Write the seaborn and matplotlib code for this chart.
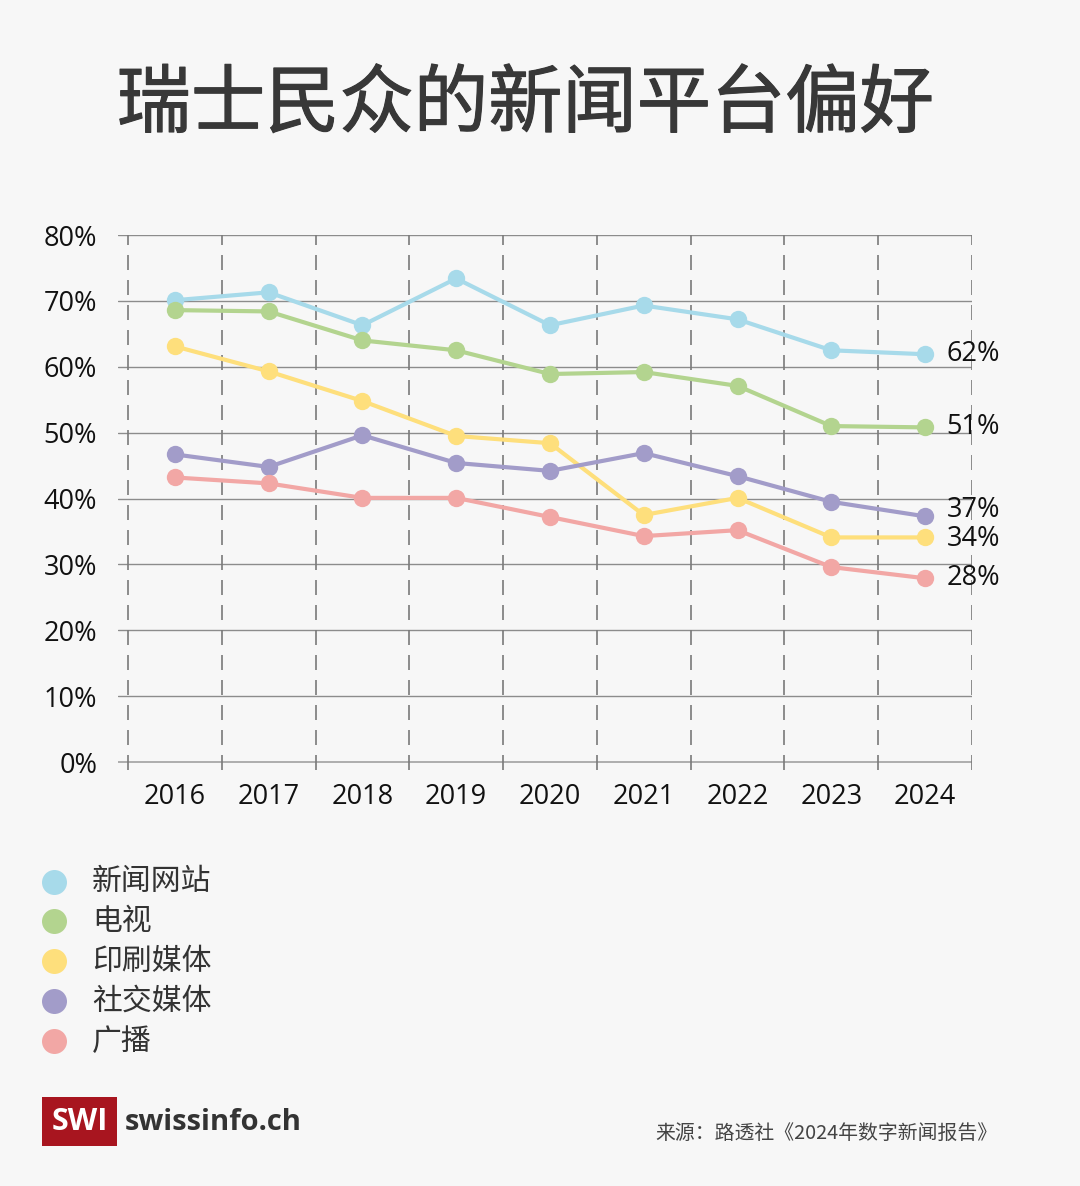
import pandas as pd
import numpy as np
import matplotlib.pyplot as plt
import matplotlib.patheffects as pe
import seaborn as sns
from matplotlib.lines import Line2D
from matplotlib.patches import Rectangle

# data (share of respondents, %)
years = [2016, 2017, 2018, 2019, 2020, 2021, 2022, 2023, 2024]
platforms = ["新闻网站", "电视", "印刷媒体", "社交媒体", "广播"]
news_sites = [70.1, 71.3, 66.3, 73.4, 66.3, 69.3, 67.2, 62.5, 61.9]
tv = [68.6, 68.4, 64.0, 62.5, 58.9, 59.2, 57.1, 51.0, 50.8]
print_media = [63.1, 59.3, 54.8, 49.5, 48.4, 37.5, 40.1, 34.1, 34.1]
social_media = [46.7, 44.8, 49.6, 45.4, 44.2, 46.9, 43.4, 39.5, 37.3]
radio = [43.2, 42.3, 40.1, 40.1, 37.2, 34.3, 35.2, 29.6, 27.9]
colors = ["#a7daea", "#b3d48f", "#fedf7c", "#a29cc9", "#f2a7a5"]
yticks = [0, 10, 20, 30, 40, 50, 60, 70, 80]

series = [news_sites, tv, print_media, social_media, radio]
df = pd.DataFrame({
    "year": years * len(platforms),
    "value": sum(series, []),
    "platform": np.repeat(platforms, len(years)),
})

bg = "#f7f7f7"
sns.set_style("white")
plt.rcParams["font.family"] = ["Noto Sans CJK SC", "DejaVu Sans"]
num_font = "Open Sans"

fig = plt.figure(figsize=(10.8, 11.86), dpi=100, facecolor=bg)
ax = fig.add_axes([118 / 1080, 1 - 770 / 1186, (972 - 118) / 1080, (770 - 235) / 1186])
ax.set_facecolor(bg)

# grid
for t in yticks:
    ax.axhline(t, color="#a8a8a8" if t == 0 else "#8c8c8c", lw=1.3 if t == 0 else 1.0, zorder=1)
for b in np.arange(years[0] - 0.5, years[-1] + 1, 1):
    ax.axvline(b, color="#7a7a7a", lw=1.2, dashes=(9, 6), zorder=1)

sns.lineplot(data=df, x="year", y="value", hue="platform", hue_order=platforms,
             palette=colors, marker="o", markersize=12.5, markeredgewidth=0,
             linewidth=3, legend=False, ax=ax, zorder=3)

# end labels (37% / 34% nudged apart)
offsets = [0, 0, -0.3, 0.9, 0]
for s, off in zip(series, offsets):
    ax.text(years[-1] + 0.23, s[-1] + off, f"{round(s[-1])}%", fontsize=19.5,
            va="center", ha="left", color="#111111", zorder=4, family=num_font)

ax.set_xlim(years[0] - 0.606, years[-1] + 0.5)
ax.set_ylim(-1.2, 80)
ax.set_yticks(yticks)
ax.set_yticklabels([f"{t}%" for t in yticks], family=num_font)
ax.set_xticks(years)
ax.set_xticklabels([str(y) for y in years], family=num_font)
ax.tick_params(axis="both", length=0, labelsize=19.5, colors="#111111")
ax.tick_params(axis="y", pad=15)
ax.tick_params(axis="x", pad=9)
ax.set_xlabel("")
ax.set_ylabel("")
for sp in ax.spines.values():
    sp.set_visible(False)

# title
fig.text(525 / 1080, 1 - 105 / 1186, "瑞士民众的新闻平台偏好", fontsize=53.5,
         color="#383838", ha="center", va="center",
         path_effects=[pe.withStroke(linewidth=0.8, foreground="#383838")])

# legend
leg_y = [882, 921, 961, 1001, 1041]
for lab, c, yy in zip(platforms, colors, leg_y):
    fig.add_artist(Line2D([54 / 1080], [1 - yy / 1186], marker="o", markersize=18,
                          color=c, markeredgewidth=0, transform=fig.transFigure))
    fig.text(92 / 1080, 1 - yy / 1186, lab, fontsize=21.5, color="#333333",
             ha="left", va="center")

# logo
fig.add_artist(Rectangle((42 / 1080, 1 - 1146 / 1186), 75 / 1080, 49 / 1186,
                         facecolor="#a8151f", edgecolor="none", transform=fig.transFigure))
fig.text(79.5 / 1080, 1 - 1122 / 1186, "SWI", fontsize=22, fontweight="bold",
         color="white", ha="center", va="center", family="Open Sans")
fig.text(125 / 1080, 1 - 1122 / 1186, "swissinfo.ch", fontsize=21, fontweight="bold",
         color="#333333", ha="left", va="center", family="Open Sans")

# source
fig.text(997 / 1080, 1 - 1133 / 1186, "来源：路透社《2024年数字新闻报告》", fontsize=14.3,
         color="#444444", ha="right", va="center")

fig.savefig("out.png", dpi=100, facecolor=bg)
